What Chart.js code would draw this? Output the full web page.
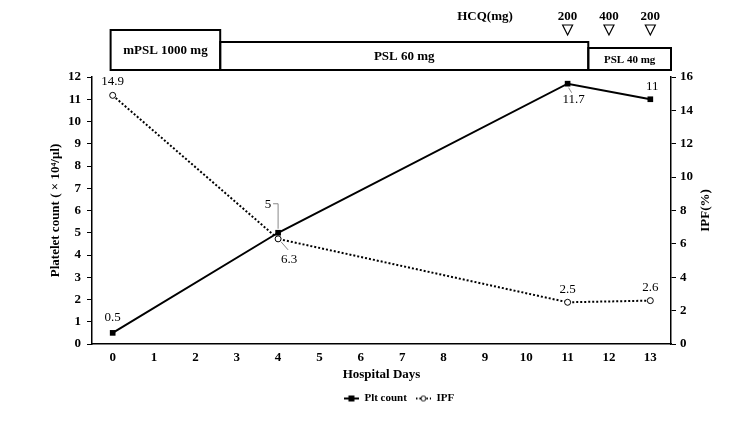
<!DOCTYPE html>
<html>
<head>
<meta charset="utf-8">
<script src="https://cdn.jsdelivr.net/npm/chart.js@4.4.1/dist/chart.umd.min.js"></script>
<style>
  html, body { margin: 0; padding: 0; background: #fff; }
  #wrap { width: 750px; height: 422px; }
</style>
</head>
<body>
<div id="wrap"><canvas id="chart" width="750" height="422"></canvas></div>
<script>
// ===== DATA =====
const days = ['0', '1', '2', '3', '4', '5', '6', '7', '8', '9', '10', '11', '12', '13'];
const sampleDays = [0, 4, 11, 13];
const pltCount = [0.5, 5, 11.7, 11];
const ipf = [14.9, 6.3, 2.5, 2.6];

// treatment boxes (day ranges) and HCQ doses
const treatments = [
  { label: 'mPSL 1000 mg', from: -0.05, to: 2.6, size: 13 },
  { label: 'PSL 60 mg', from: 2.6, to: 11.5, size: 13 },
  { label: 'PSL 40 mg', from: 11.5, to: 13.5, size: 11 }
];
const hcqDays = [11, 12, 13];
const hcqDoses = ['200', '400', '200'];

const SERIF = '"Liberation Serif", "Times New Roman", serif';

// small legend icons: line with marker
function legendIcon(kind) {
  const c = document.createElement('canvas');
  c.width = 15; c.height = 10;
  const g = c.getContext('2d');
  g.strokeStyle = '#000';
  g.lineWidth = 2;
  if (kind === 'dot') g.setLineDash([1.5, 2]);
  g.beginPath(); g.moveTo(0, 5); g.lineTo(15, 5); g.stroke();
  g.setLineDash([]);
  if (kind === 'dot') {
    g.fillStyle = '#fff'; g.lineWidth = 1;
    g.beginPath(); g.arc(7.5, 5, 2.5, 0, Math.PI * 2); g.fill(); g.stroke();
  } else {
    g.fillStyle = '#000';
    g.fillRect(4.5, 2, 6, 6);
  }
  return c;
}

// ===== PLUGINS =====
const decorations = {
  id: 'decorations',
  afterDraw(chart) {
    const ctx = chart.ctx;
    const xs = chart.scales.x;
    const area = chart.chartArea;
    ctx.save();

    // treatment boxes
    const bottom = 70;
    const tops = [30, 42, 48];
    ctx.strokeStyle = '#000';
    ctx.lineWidth = 2;
    treatments.forEach((t, i) => {
      const x1 = xs.getPixelForValue(t.from);
      const x2 = i === treatments.length - 1 ? area.right : xs.getPixelForValue(t.to);
      ctx.strokeRect(x1, tops[i], x2 - x1, bottom - tops[i]);
      ctx.fillStyle = '#000';
      ctx.font = 'bold ' + t.size + 'px ' + SERIF;
      ctx.textAlign = 'center';
      ctx.textBaseline = 'middle';
      ctx.fillText(t.label, (x1 + x2) / 2, (tops[i] + bottom) / 2 + 1);
    });

    // HCQ doses
    ctx.font = 'bold 13px ' + SERIF;
    ctx.textAlign = 'center';
    ctx.textBaseline = 'middle';
    ctx.fillText('HCQ(mg)', 485, 17);
    ctx.lineWidth = 1.2;
    hcqDays.forEach((d, i) => {
      const x = xs.getPixelForValue(d);
      ctx.fillText(hcqDoses[i], x, 17);
      ctx.beginPath();
      ctx.moveTo(x - 5, 25);
      ctx.lineTo(x + 5, 25);
      ctx.lineTo(x, 35);
      ctx.closePath();
      ctx.stroke();
    });

    // right axis title (reads bottom to top)
    ctx.save();
    ctx.translate(706, (area.top + area.bottom) / 2);
    ctx.rotate(-Math.PI / 2);
    ctx.font = 'bold 13px ' + SERIF;
    ctx.fillText('IPF(%)', 0, 0);
    ctx.restore();

    // value labels
    const pltMeta = chart.getDatasetMeta(0).data;
    const ipfMeta = chart.getDatasetMeta(1).data;
    ctx.font = '13px ' + SERIF;
    ctx.fillStyle = '#000';
    const pltOff = [[0, -15], [-10, -28], [6, 16], [2, -13]];
    const ipfOff = [[0, -14], [11, 21], [0, -13], [0, -13]];
    pltMeta.forEach((p, i) => {
      ctx.fillText(String(pltCount[i]), p.x + pltOff[i][0], p.y + pltOff[i][1]);
    });
    ipfMeta.forEach((p, i) => {
      ctx.fillText(String(ipf[i]), p.x + ipfOff[i][0], p.y + ipfOff[i][1]);
    });

    // leader lines
    ctx.strokeStyle = '#888';
    ctx.lineWidth = 1;
    let p = pltMeta[1];
    ctx.beginPath();
    ctx.moveTo(p.x - 5, p.y - 29); ctx.lineTo(p.x, p.y - 29); ctx.lineTo(p.x, p.y - 4);
    ctx.stroke();
    p = ipfMeta[1];
    ctx.beginPath();
    ctx.moveTo(p.x + 3, p.y + 3); ctx.lineTo(p.x + 10, p.y + 11);
    ctx.stroke();
    p = pltMeta[2];
    ctx.beginPath();
    ctx.moveTo(p.x + 1, p.y + 4); ctx.lineTo(p.x + 4, p.y + 9);
    ctx.stroke();

    ctx.restore();
  }
};

// ===== CHART =====
new Chart(document.getElementById('chart'), {
  type: 'line',
  data: {
    labels: days,
    datasets: [
      {
        label: 'Plt count',
        data: sampleDays.map((d, i) => ({ x: String(d), y: pltCount[i] })),
        yAxisID: 'y',
        borderColor: '#000',
        backgroundColor: '#000',
        borderWidth: 2,
        pointStyle: 'rect',
        pointRadius: 4,
        pointBorderWidth: 0,
        tension: 0,
        order: 1
      },
      {
        label: 'IPF',
        data: sampleDays.map((d, i) => ({ x: String(d), y: ipf[i] })),
        yAxisID: 'y1',
        borderColor: '#000',
        backgroundColor: '#fff',
        borderWidth: 2,
        borderDash: [2, 2],
        pointStyle: 'circle',
        pointRadius: 3,
        pointBorderWidth: 1,
        tension: 0,
        order: 2
      }
    ]
  },
  options: {
    responsive: false,
    animation: false,
    layout: { padding: { top: 77, left: 48, right: 0, bottom: 8 } },
    scales: {
      x: {
        type: 'category',
        offset: true,
        grid: { display: false, drawTicks: false },
        border: { display: true, color: '#000', width: 1.5 },
        ticks: { color: '#000', font: { family: SERIF, size: 13, weight: 'bold' }, padding: 6, maxRotation: 0 },
        title: { display: true, text: 'Hospital Days', color: '#000', font: { family: SERIF, size: 13, weight: 'bold' }, padding: { top: 0, bottom: 2 } },
        afterFit(s) { s.height = 40; }
      },
      y: {
        position: 'left',
        min: 0, max: 12,
        grid: { display: true, drawOnChartArea: false, drawTicks: true, tickLength: 5, color: '#000' },
        border: { display: true, color: '#000', width: 1.5 },
        ticks: { stepSize: 1, color: '#000', font: { family: SERIF, size: 13, weight: 'bold' }, padding: 6 },
        title: { display: true, text: 'Platelet count ( × 10\u2074/μl)', color: '#000', font: { family: SERIF, size: 13, weight: 'bold' }, padding: { top: 0, bottom: 4 } },
        afterFit(s) { s.width = 44; }
      },
      y1: {
        position: 'right',
        min: 0, max: 16,
        grid: { display: true, drawOnChartArea: false, drawTicks: true, tickLength: 5, color: '#000' },
        border: { display: true, color: '#000', width: 1.5 },
        ticks: { stepSize: 2, color: '#000', font: { family: SERIF, size: 13, weight: 'bold' }, padding: 4 },
        afterFit(s) { s.width = 79; }
      }
    },
    plugins: {
      legend: {
        position: 'bottom',
        labels: {
          color: '#000',
          font: { family: SERIF, size: 11, weight: 'bold' },
          usePointStyle: true,
          pointStyleWidth: 15,
          padding: 9,
          generateLabels(chart) {
            return chart.data.datasets.map((ds, i) => ({
              text: ds.label,
              datasetIndex: i,
              pointStyle: legendIcon(i === 0 ? 'solid' : 'dot'),
              fontColor: '#000',
              strokeStyle: '#000',
              fillStyle: '#000',
              lineWidth: 0
            }));
          }
        }
      },
      tooltip: { enabled: false }
    }
  },
  plugins: [decorations]
});
</script>
</body>
</html>
